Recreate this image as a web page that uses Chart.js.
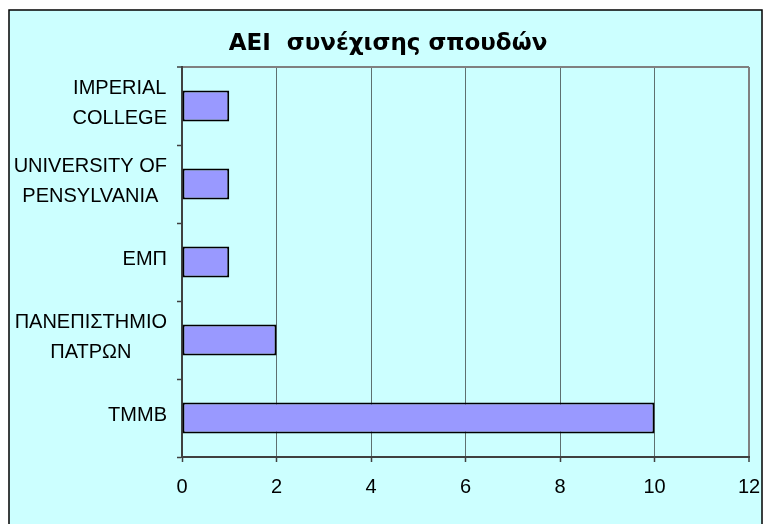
<!DOCTYPE html>
<html>
<head>
<meta charset="utf-8">
<script src="https://cdn.jsdelivr.net/npm/chart.js@4.4.1/dist/chart.umd.min.js"></script>
<style>
html,body{margin:0;padding:0;background:#ffffff;}
#wrap{position:relative;width:764px;height:524px;}
</style>
</head>
<body>
<div id="wrap"><canvas id="c" width="764" height="524"></canvas></div>
<script>
const categories = [
  ['IMPERIAL', 'COLLEGE'],
  ['UNIVERSITY OF', 'PENSYLVANIA'],
  'ΕΜΠ',
  ['ΠΑΝΕΠΙΣΤΗΜΙΟ', 'ΠΑΤΡΩΝ'],
  'ΤΜΜΒ'
];
const values = [1, 1, 1, 2, 10];
const xTicks = [0, 2, 4, 6, 8, 10, 12];
const titleText = 'ΑΕΙ  συνέχισης σπουδών';

const FONT = "'Liberation Sans', Arial, sans-serif";
const TITLE_FONT = "'DejaVu Sans', Verdana, sans-serif";

const bgPlugin = {
  id: 'bg',
  beforeDraw(chart) {
    const ctx = chart.ctx;
    ctx.save();
    ctx.fillStyle = '#ffffff';
    ctx.fillRect(0, 0, chart.width, chart.height);
    ctx.fillStyle = '#ccffff';
    ctx.fillRect(9, 10, 753, 530);
    ctx.strokeStyle = '#000000';
    ctx.lineWidth = 1.5;
    ctx.strokeRect(9, 10, 753, 530);
    ctx.restore();
    // center each multi-line category label on itself, block right-aligned
    const ys = chart.scales.y;
    const items = ys.getLabelItems(chart.chartArea);
    const c = chart.ctx;
    items.forEach(it => {
      if (it._adj) return;
      c.save();
      c.font = it.font.string;
      const lines = Array.isArray(it.label) ? it.label : [it.label];
      let w = 0;
      lines.forEach(l => { w = Math.max(w, c.measureText(l).width); });
      c.restore();
      it.options.textAlign = 'center';
      it.options.translation = [it.options.translation[0] - w / 2, it.options.translation[1] - 3];
      it._adj = true;
    });
  }
};

new Chart(document.getElementById('c'), {
  type: 'bar',
  data: {
    labels: categories,
    datasets: [{
      data: values,
      backgroundColor: '#9999ff',
      borderColor: '#000000',
      borderWidth: 2,
      borderSkipped: false,
      categoryPercentage: 0.8,
      barPercentage: 0.5
    }]
  },
  options: {
    indexAxis: 'y',
    responsive: false,
    animation: false,
    devicePixelRatio: 1,
    layout: { padding: { left: 12, right: 0, top: 30, bottom: 0 } },
    plugins: {
      legend: { display: false },
      tooltip: { enabled: false },
      title: {
        display: true,
        text: titleText,
        color: '#000000',
        font: { family: TITLE_FONT, size: 23, weight: 'bold', lineHeight: 1.2 },
        padding: { top: 0, bottom: 9.4 }
      }
    },
    scales: {
      x: {
        type: 'linear',
        min: 0,
        max: 12,
        clip: false,
        afterBuildTicks(scale) { scale.ticks = xTicks.map(v => ({ value: v })); },
        afterFit(scale) { scale.height = 67; scale.paddingRight = 15; },
        border: { display: true, color: '#404040', width: 2 },
        grid: {
          drawOnChartArea: true,
          drawTicks: true,
          tickLength: 5,
          color: (ctx) => ctx.index === xTicks.length - 1 ? '#808080' : (ctx.index === 0 ? '#404040' : '#5f7070'),
          lineWidth: (ctx) => ctx.index === xTicks.length - 1 ? 2 : 1,
          tickColor: '#404040',
          tickWidth: 1.5
        },
        ticks: {
          color: '#000000',
          padding: 13,
          font: { family: FONT, size: 20, lineHeight: 1.2 },
          maxRotation: 0,
          autoSkip: false
        }
      },
      y: {
        clip: false,
        afterFit(scale) { scale.width = 182 - 12; },
        border: { display: true, color: '#404040', width: 2 },
        grid: {
          offset: true,
          drawOnChartArea: true,
          drawTicks: true,
          tickLength: 5,
          color: (ctx) => ctx.index === 0 ? '#808080' : 'rgba(0,0,0,0)',
          lineWidth: (ctx) => ctx.index === 0 ? 2 : 1,
          tickColor: '#404040',
          tickWidth: 1.5
        },
        ticks: {
          color: '#000000',
          padding: 10,
          crossAlign: 'near',
          font: { family: FONT, size: 20, lineHeight: 1.5 },
          autoSkip: false
        }
      }
    }
  },
  plugins: [bgPlugin]
});
</script>
</body>
</html>
